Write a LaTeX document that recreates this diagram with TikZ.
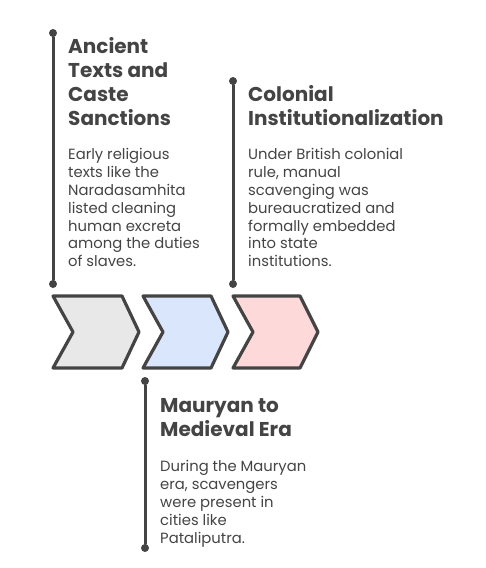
\documentclass[tikz,border=0pt]{standalone}
\usepackage{fontspec}
\setmainfont{Poppins}
\usetikzlibrary{positioning}
\definecolor{ink}{HTML}{444444}
\definecolor{grayfill}{HTML}{E8E8E8}
\definecolor{bluefill}{HTML}{DAE6FC}
\definecolor{redfill}{HTML}{FDD9D9}
\tikzset{
  stem/.style={draw=ink, line width=3pt, line cap=round},
  knob/.style={circle, fill=ink, inner sep=0pt, minimum size=8pt},
  chev/.style={draw=ink, line width=3.2pt, line join=round},
  ttl/.style={anchor=north west, inner sep=0pt, align=left, text=ink, font=\fontsize{20}{24}\selectfont\bfseries},
  body/.style={anchor=north west, inner sep=0pt, align=left, text=ink, font=\fontsize{14.8}{17.9}\selectfont}
}
\begin{document}
\begin{tikzpicture}[x=1pt,y=-1pt]
	\useasboundingbox (0,0) rectangle (486,568);
	% chevrons
	\draw[chev, fill=grayfill] (53,296) -- (122,296) -- (139,332) -- (122,368) -- (53,368) -- (73,332) -- cycle;
	\draw[chev, fill=bluefill] (143,296) -- (211,296) -- (228,332) -- (211,368) -- (143,368) -- (163,332) -- cycle;
	\draw[chev, fill=redfill] (233,296) -- (300,296) -- (318,332) -- (300,368) -- (233,368) -- (253,332) -- cycle;
	% stems
	\node[knob] (a1) at (53,33) {};
	\node[knob] (a2) at (53,284) {};
	\draw[stem] (a1) -- (a2);
	\node[knob] (c1) at (233,81) {};
	\node[knob] (c2) at (233,284) {};
	\draw[stem] (c1) -- (c2);
	\node[knob] (m1) at (145,381) {};
	\node[knob] (m2) at (145,548) {};
	\draw[stem] (m1) -- (m2);
	% texts
	\node[ttl] (ancient) at (68,37) {Ancient\\Texts and\\Caste\\Sanctions};
	\node[body] (ancientbody) at (68,148) {Early religious\\texts like the\\Naradasamhita\\listed cleaning\\human excreta\\among the duties\\of slaves.};
	\node[ttl] (colonial) at (248,85) {Colonial\\Institutionalization};
	\node[body] (colonialbody) at (248,148) {Under British colonial\\rule, manual\\scavenging was\\bureaucratized and\\formally embedded\\into state\\institutions.};
	\node[ttl] (mauryan) at (160,398) {Mauryan to\\Medieval Era};
	\node[body] (mauryanbody) at (160,460) {During the Mauryan\\era, scavengers\\were present in\\cities like\\Pataliputra.};
\end{tikzpicture}
\end{document}
